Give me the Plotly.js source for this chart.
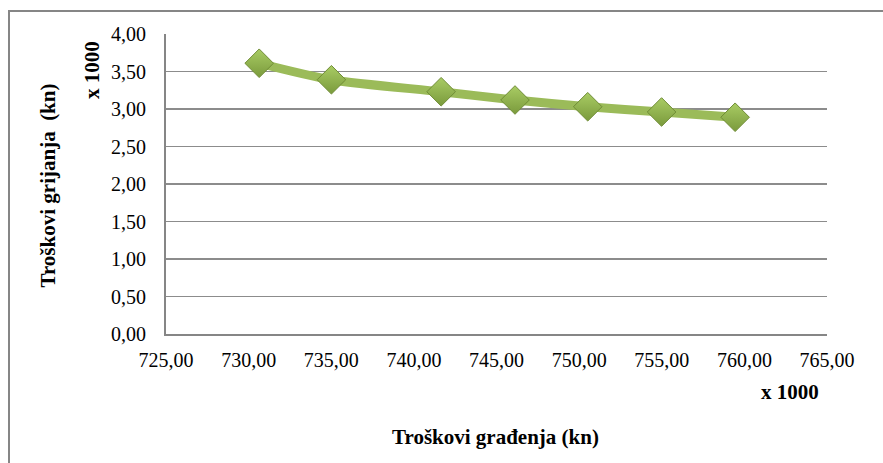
<!DOCTYPE html>
<html>
<head>
<meta charset="utf-8">
<script src="https://cdn.plot.ly/plotly-3.0.1.min.js"></script>
<style>
html,body{margin:0;padding:0;background:#fff;overflow:hidden;}
#frame{position:absolute;left:8px;top:10px;width:900px;height:480px;border-left:2px solid #868686;border-top:2px solid #868686;box-sizing:border-box;}
#chart{position:absolute;left:0;top:0;width:883px;height:463px;}
</style>
</head>
<body>
<div id="frame"></div>
<div id="chart"></div>
<script>
// Data (x in thousands of kn, y in thousands of kn)
const gradnjaCosts = [730.64, 735.01, 741.65, 746.12, 750.52, 754.99, 759.44];
const grijanjeCosts = [3.61, 3.39, 3.23, 3.12, 3.03, 2.96, 2.89];
const xTickValues = [725, 730, 735, 740, 745, 750, 755, 760, 765];
const yTickValues = [0, 0.5, 1, 1.5, 2, 2.5, 3, 3.5, 4];
const xAxisTitle = 'Troškovi građenja (kn)';
const yAxisTitle = 'Troškovi grijanja  (kn)';
const scaleLabel = 'x 1000';

const serif = '"Liberation Serif", "Times New Roman", serif';

const trace = {
  x: gradnjaCosts,
  y: grijanjeCosts,
  type: 'scatter',
  mode: 'lines+markers',
  line: {color: '#9BBB59', width: 9, shape: 'spline', smoothing: 0.8},
  marker: {
    symbol: 'diamond',
    size: 22,
    color: '#A9CC64',
    gradient: {type: 'vertical', color: '#7A9A3C'},
    line: {color: '#6F8C35', width: 1}
  },
  hoverinfo: 'x+y',
  showlegend: false
};

const layout = {
  width: 883,
  height: 463,
  margin: {l: 166, r: 56, t: 34, b: 129},
  paper_bgcolor: 'rgba(0,0,0,0)',
  plot_bgcolor: '#fff',
  separators: ', ',
  font: {family: serif, color: '#000', size: 18},
  xaxis: {
    range: [725, 765],
    tickvals: xTickValues,
    tickformat: '.2f',
    showgrid: false,
    zeroline: false,
    showline: true,
    linecolor: '#868686',
    linewidth: 2,
    ticks: '',
    ticklabelstandoff: 7,
    tickfont: {family: serif, size: 20, color: '#000'}
  },
  yaxis: {
    range: [0, 4],
    tickvals: yTickValues,
    tickformat: '.2f',
    showgrid: true,
    gridcolor: '#8C8C8C',
    gridwidth: 1.5,
    zeroline: false,
    showline: true,
    linecolor: '#868686',
    linewidth: 2,
    ticks: '',
    ticklabelstandoff: 14,
    tickfont: {family: serif, size: 20, color: '#000'}
  },
  annotations: [
    {xref: 'paper', yref: 'paper', x: -0.18, y: 0.495, text: '<b>' + yAxisTitle + '</b>', textangle: -90,
     showarrow: false, font: {family: serif, size: 21, color: '#000'}, xanchor: 'center', yanchor: 'middle'},
    {xref: 'paper', yref: 'paper', x: -0.112, y: 0.88, text: '<b>' + scaleLabel + '</b>', textangle: -90,
     showarrow: false, font: {family: serif, size: 21, color: '#000'}, xanchor: 'center', yanchor: 'middle'},
    {xref: 'paper', yref: 'paper', x: 0.944, y: -0.192, text: '<b>' + scaleLabel + '</b>',
     showarrow: false, font: {family: serif, size: 21, color: '#000'}, xanchor: 'center', yanchor: 'middle'},
    {xref: 'paper', yref: 'paper', x: 0.499, y: -0.342, text: '<b>' + xAxisTitle + '</b>',
     showarrow: false, font: {family: serif, size: 21, color: '#000'}, xanchor: 'center', yanchor: 'middle'}
  ]
};

Plotly.newPlot('chart', [trace], layout, {displayModeBar: false, staticPlot: true});
</script>
</body>
</html>
